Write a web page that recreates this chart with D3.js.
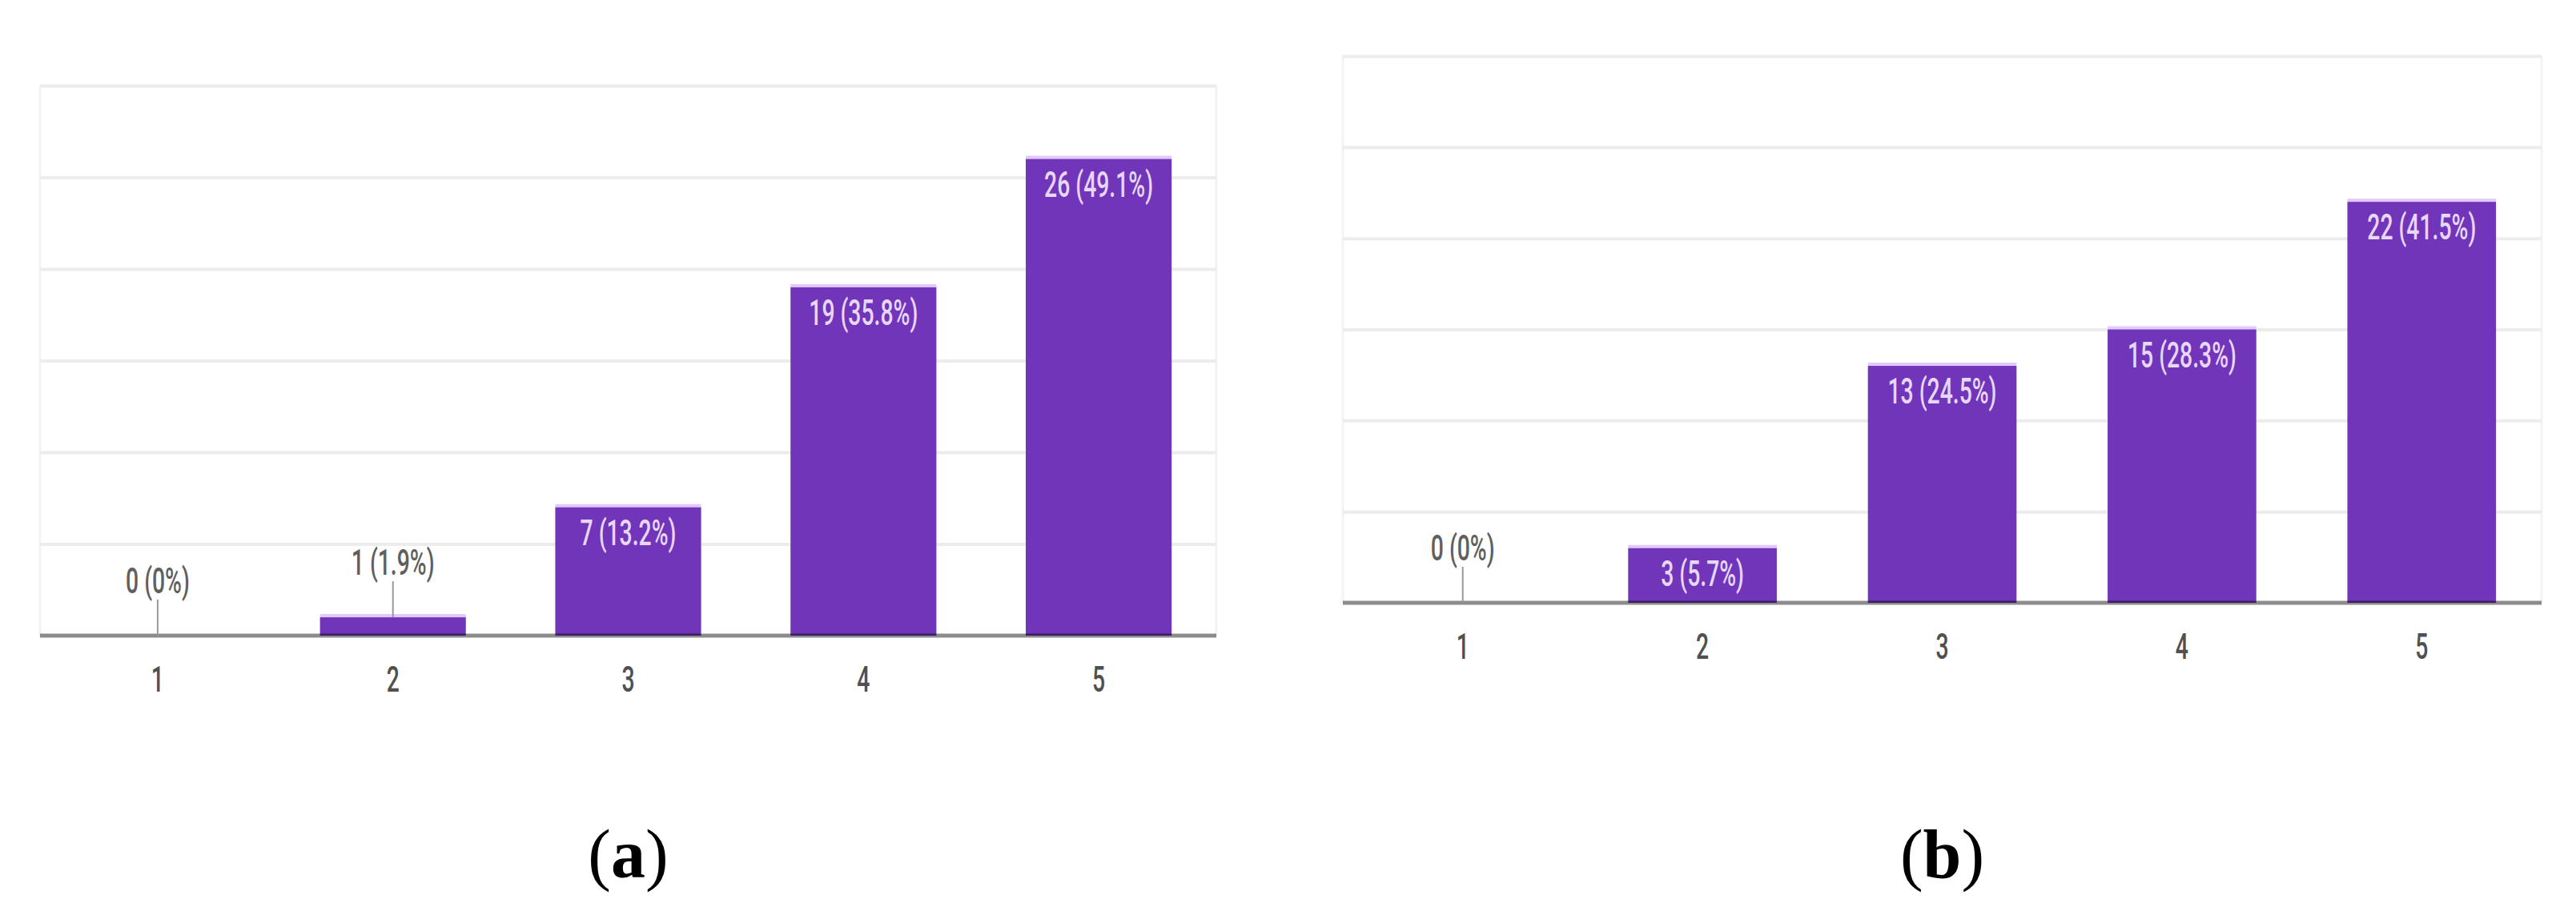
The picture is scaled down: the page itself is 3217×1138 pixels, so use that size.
<!DOCTYPE html>
<html>
<head>
<meta charset="utf-8">
<script src="https://cdn.jsdelivr.net/npm/d3@7"></script>
<style>
    body { margin: 0; background: #fff; }
    svg { display: block; }
</style>
</head>
<body>
<svg id="chart"></svg>
<script>
// values
var categories = ["1", "2", "3", "4", "5"]
var countsA = [0, 1, 7, 19, 26]
var pctsA = ["0%", "1.9%", "13.2%", "35.8%", "49.1%"]
var countsB = [0, 3, 13, 15, 22]
var pctsB = ["0%", "5.7%", "24.5%", "28.3%", "41.5%"]
var yTicks = [0, 5, 10, 15, 20, 25, 30]
var captions = ["a", "b"]

var width = 3217
var height = 1138

var panels = [
    { left: 50, right: 1519, top: 107, bottom: 794, counts: countsA, pcts: pctsA, caption: captions[0] },
    { left: 1677, right: 3174, top: 70, bottom: 753, counts: countsB, pcts: pctsB, caption: captions[1] }
]

var colors = {
    bar: "#7035b8",
    barTop: "#e2c9fb",
    grid: "#ececec",
    inside: "#e8d6fb",
    outside: "#5f5f5f",
    tick: "#505050"
}

var squeeze = 0.63

var svg = d3.select("#chart")
    .attr("width", width)
    .attr("height", height)

function squeezedText(g, x, y, str, fill) {
    g.append("g")
        .attr("transform", "translate(" + x + "," + y + ")")
        .append("text")
        .attr("transform", "scale(" + squeeze + ",1)")
        .attr("text-anchor", "middle")
        .style("font", "500 45px Roboto, sans-serif")
        .attr("fill", fill)
        .text(str)
}

function drawPanel(p) {
    var g = svg.append("g")

    var xScale = d3.scaleBand()
        .domain(categories)
        .range([p.left, p.right])
        .paddingInner(0.38)
        .paddingOuter(0.19)

    var yScale = d3.scaleLinear()
        .domain([0, d3.max(yTicks)])
        .range([p.bottom, p.top])

    // faint frame sides
    g.selectAll("line.side")
        .data([p.left, p.right])
        .enter()
        .append("line")
        .attr("x1", function (d) { return d })
        .attr("x2", function (d) { return d })
        .attr("y1", p.top)
        .attr("y2", p.bottom)
        .attr("stroke", "#f3f3f3")
        .attr("stroke-width", 3)

    // gridlines
    var yAxis = d3.axisLeft(yScale)
        .tickValues(yTicks.slice(1))
        .tickSize(-(p.right - p.left))
        .tickFormat("")

    g.append("g")
        .attr("class", "y grid")
        .attr("transform", "translate(" + p.left + ",0)")
        .call(yAxis)
        .call(function (s) { s.select(".domain").remove() })
        .selectAll("line")
        .attr("stroke", colors.grid)
        .attr("stroke-width", 4)

    var rows = categories.map(function (c, i) {
        return { cat: c, n: p.counts[i], pct: p.pcts[i] }
    })

    // light strip on top of each bar
    g.selectAll("rect.strip")
        .data(rows.filter(function (d) { return d.n > 0 }))
        .enter()
        .append("rect")
        .attr("x", function (d) { return xScale(d.cat) })
        .attr("y", function (d) { return yScale(d.n) - 4 })
        .attr("width", xScale.bandwidth())
        .attr("height", 4)
        .attr("fill", colors.barTop)

    g.selectAll("rect.bar")
        .data(rows)
        .enter()
        .append("rect")
        .attr("x", function (d) { return xScale(d.cat) })
        .attr("y", function (d) { return yScale(d.n) })
        .attr("width", xScale.bandwidth())
        .attr("height", function (d) { return yScale(0) - yScale(d.n) })
        .attr("fill", colors.bar)

    // baseline drawn over the bars
    var xAxis = d3.axisBottom(xScale)
        .tickSize(0)
        .tickPadding(70)

    var ax = g.append("g")
        .attr("class", "x axis")
        .attr("transform", "translate(0," + yScale(0) + ")")
        .call(xAxis)

    ax.select(".domain")
        .attr("d", "M" + p.left + ",0H" + p.right)
        .attr("stroke", "#000")
        .attr("stroke-opacity", 0.45)
        .attr("stroke-width", 5)
    ax.selectAll(".tick text").remove()

    categories.forEach(function (c) {
        squeezedText(g, xScale(c) + xScale.bandwidth() / 2, yScale(0) + 70, c, colors.tick)
    })

    // value labels
    rows.forEach(function (d) {
        var cx = xScale(d.cat) + xScale.bandwidth() / 2
        var top = yScale(d.n)
        var label = d.n + " (" + d.pct + ")"
        if (yScale(0) - top > 60) {
            squeezedText(g, cx, top + 47, label, colors.inside)
        } else {
            g.append("line")
                .attr("x1", cx)
                .attr("x2", cx)
                .attr("y1", top)
                .attr("y2", top - 45)
                .attr("stroke", "#999")
                .attr("stroke-width", 2)
            squeezedText(g, cx, top - 53, label, colors.outside)
        }
    })

    var cap = svg.append("text")
        .attr("x", (p.left + p.right) / 2)
        .attr("y", 1096)
        .attr("text-anchor", "middle")
        .style("font", "86px 'Liberation Serif', serif")
        .attr("fill", "#000")
    cap.append("tspan").text("(")
    cap.append("tspan").style("font-weight", "bold").text(p.caption)
    cap.append("tspan").text(")")
}

panels.forEach(drawPanel)
</script>
</body>
</html>
